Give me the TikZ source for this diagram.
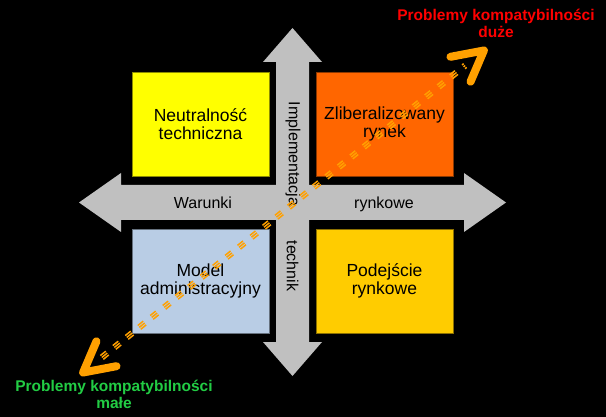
\documentclass[tikz,border=0pt]{standalone}
\usepackage{fontspec}
\setmainfont{Liberation Sans}
\usetikzlibrary{arrows.meta,calc}

\definecolor{quadyellow}{HTML}{FFFF00}
\definecolor{quadorange}{HTML}{FF6600}
\definecolor{quadblue}{HTML}{B9CDE5}
\definecolor{quadgold}{HTML}{FFCC00}
\definecolor{axisgrey}{HTML}{C0C0C0}
\definecolor{trendorange}{HTML}{FFA000}
\definecolor{lowgreen}{HTML}{22CC44}

\begin{document}
\begin{tikzpicture}[x=1pt, y=-1pt,
    quad/.style={rectangle, draw=#1!55!black, fill=#1, line width=0.8pt, inner sep=0pt,
        minimum width=137pt, minimum height=104pt, text centered, align=center,
        font=\fontsize{17.5}{18.5}\selectfont},
    axis/.style={fill=axisgrey, draw=none},
    axislabel/.style={text=black, inner sep=0pt, font=\fontsize{16}{18}\selectfont},
    stripe/.style={draw=trendorange, line width=1.5pt, dash pattern=on 7pt off 9pt,
        shorten <=28pt, shorten >=28pt},
    tip/.style={draw=trendorange, line width=1pt,
        -{Straight Barb[length=30pt, width=32pt, line width=8pt, round]}},
    note/.style={align=center, inner sep=0pt, font=\bfseries\fontsize{15.5}{17}\selectfont}
    ]
    \fill[black] (0,0) rectangle (606,417);
    \useasboundingbox (0,0) rectangle (606,417);

    % the two grey axes
    \fill[axis] (79,202.5) -- (121,173) -- (121,185) -- (464,185) -- (464,173) -- (506,202.5)
        -- (464,232) -- (464,220) -- (121,220) -- (121,232) -- cycle;
    \fill[axis] (292.5,28) -- (322,62) -- (309,62) -- (309,342) -- (322,342) -- (292.5,376)
        -- (263,342) -- (276,342) -- (276,62) -- (263,62) -- cycle;

    \node (Quad00) [quad=quadyellow] at (200.5,124) {Neutralność\\techniczna};
    \node (Quad01) [quad=quadorange] at (384.5,124) {Zliberalizowany\\rynek};
    \node (Quad10) [quad=quadblue] at (200.5,281) {Model\\administracyjny};
    \node (Quad11) [quad=quadgold] at (384.5,281) {Podejście\\rynkowe};

    \node (AxisW) [axislabel] at (203,203) {Warunki};
    \node (AxisE) [axislabel] at (384,204) {rynkowe};
    \node (AxisN) [axislabel, rotate=-90] at (293,154) {Implementacja};
    \node (AxisS) [axislabel, rotate=-90] at (292.5,266) {technik};

    % dashed trend, three thin stripes
    \coordinate (TrendLow) at (80,375);
    \coordinate (TrendHigh) at (487,48);
    \draw[stripe] (TrendLow) -- (TrendHigh);
    \draw[stripe, transform canvas={shift={(1.5,1.87)}}] (TrendLow) -- (TrendHigh);
    \draw[stripe, transform canvas={shift={(-1.5,-1.87)}}] (TrendLow) -- (TrendHigh);
    \draw[tip] ($(TrendHigh)!3pt!(TrendLow)$) -- (TrendHigh);
    \draw[tip] ($(TrendLow)!3pt!(TrendHigh)$) -- (TrendLow);

    \node (NoteHigh) [note, text=red] at (496,23.5) {Problemy kompatybilności\\duże};
    \node (NoteLow) [note, text=lowgreen] at (114,394.5) {Problemy kompatybilności\\małe};
\end{tikzpicture}
\end{document}
